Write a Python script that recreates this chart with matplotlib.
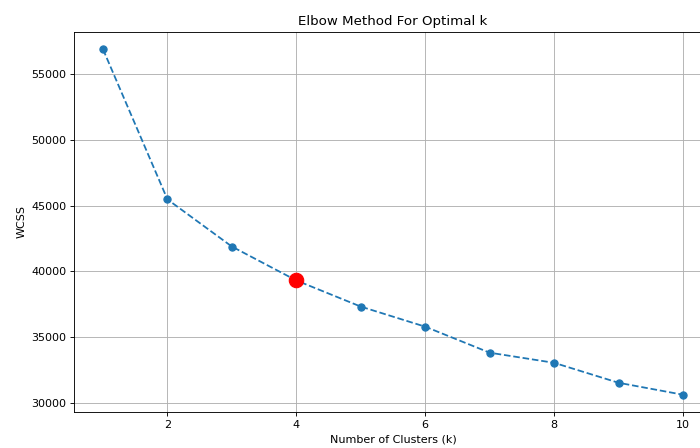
import matplotlib.pyplot as plt

# elbow curve values
k_values = [1, 2, 3, 4, 5, 6, 7, 8, 9, 10]
wcss = [56900, 45470, 41880, 39300, 37310, 35780, 33800, 33030, 31510, 30600]
optimal_k = 4

DPI = 80
fig = plt.figure(figsize=(700 / DPI, 448 / DPI), dpi=DPI)
axes = fig.add_axes([74 / 700, 36 / 448, 638 / 700, 380 / 448])
axes.plot(k_values, wcss, marker="o", linestyle="--", markersize=6.5, linewidth=1.6)
axes.plot(optimal_k, wcss[k_values.index(optimal_k)], "o", color="red",
          markersize=13, zorder=3)
axes.set_title("Elbow Method For Optimal k")
axes.set_xlabel("Number of Clusters (k)")
axes.set_ylabel("WCSS")
axes.grid(True)
fig.savefig("out.png", dpi=DPI)
